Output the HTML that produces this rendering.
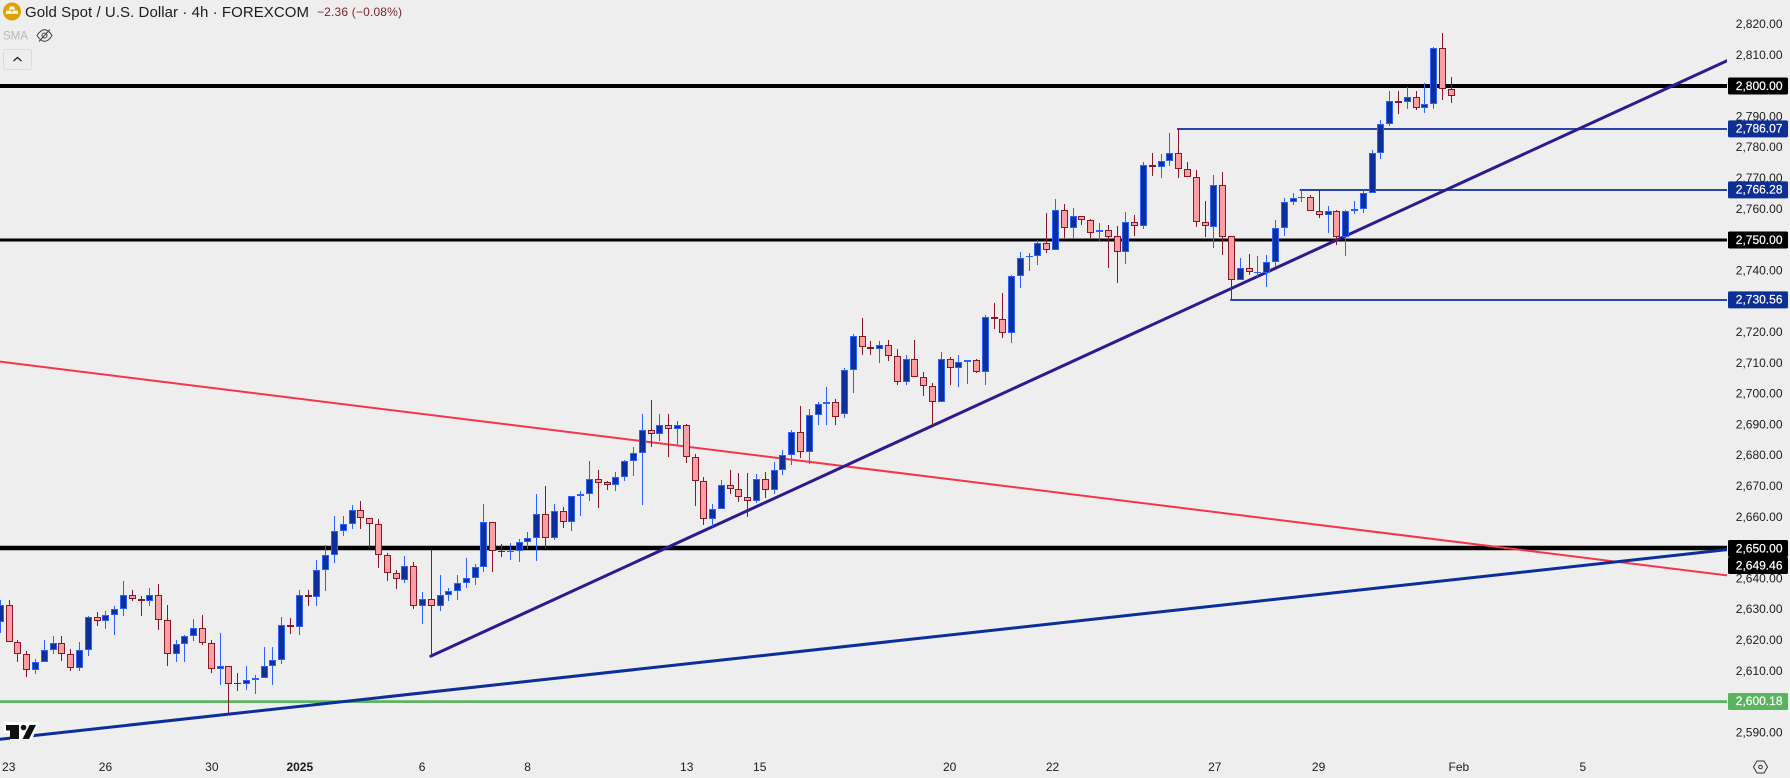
<!DOCTYPE html>
<html lang="en">
<head>
<meta charset="utf-8">
<title>Gold Spot / U.S. Dollar 4h chart</title>
<style>
html,body{margin:0;padding:0;background:#eeeeee;width:1790px;height:778px;overflow:hidden}
svg{display:block}
text{font-family:"Liberation Sans",sans-serif}
</style>
</head>
<body>
<svg id="chart" xmlns="http://www.w3.org/2000/svg" width="1790" height="778" viewBox="0 0 1790 778">
  <rect x="0" y="0" width="1790" height="778" fill="#eeeeee"/>
  <defs><clipPath id="plot-clip"><rect x="0" y="0" width="1727" height="752"/></clipPath></defs>
  <g id="lines" clip-path="url(#plot-clip)"></g>
  <g id="candles" clip-path="url(#plot-clip)"></g>
  <g id="price-axis"></g>
  <g id="price-tags"></g>
  <g id="time-axis"></g>

  <g>
    <path d="M4 722H39L32 740H10V733H4Z" fill="#ffffff"/>
    <path d="M6 725H19V739H10V730.5H6Z" fill="#111111"/>
    <circle cx="23.5" cy="727.5" r="2.8" fill="#111111"/>
    <path d="M29.5 725H36L29 739H22.5Z" fill="#111111"/>
  </g>

  <g>
    <g>
      <circle cx="12" cy="11.5" r="9" fill="#dfa200"/>
      <path d="M10 6.5h4l1 3H9ZM6.5 10.5h4.6l1 3.2H5.5ZM12.9 10.5h4.6l1 3.2h-6.6Z" fill="#ffffff"/>
    </g>
    <text x="25" y="17" font-size="15" fill="#1c1c1c" textLength="284" lengthAdjust="spacing">Gold Spot / U.S. Dollar · 4h · FOREXCOM</text>
    <text x="317" y="16" font-size="12" fill="#7f1f2c" textLength="85" lengthAdjust="spacing">−2.36 (−0.08%)</text>
    <text x="3" y="39.5" font-size="11.5" fill="#b9b9b9">SMA</text>
    <g fill="none" stroke="#4a4a4a" stroke-width="1.1">
      <path d="M37 35.5c3-4.5 5.500-5.800 7.500-5.800s4.800 1.300 7.500 5.800c-2.700 4.500-5.500 5.800-7.500 5.800s-4.500-1.300-7.500-5.800Z"/>
      <circle cx="44.500" cy="35.500" r="2.500"/>
      <path d="M39 41.500L50 29.500"/>
    </g>
    <g>
      <rect x="3.500" y="49.500" width="28" height="20" rx="2" fill="#eeeeee" stroke="#dcdcdc"/>
      <path d="M13.500 61L17.500 57.500L21.500 61" fill="none" stroke="#222222" stroke-width="1.300"/>
    </g>
  </g>

  <g fill="none" stroke="#333333" stroke-width="1">
    <path d="M1753.500 767L1757 761H1764L1767.500 767L1764 773H1757Z"/>
    <circle cx="1760.500" cy="767" r="1.800"/>
  </g>
</svg>

<script>
// ---- Candle data (prices) ----
const opens = [
2625.9,2631.4,2619.4,2615.5,2610.3,2612.9,2616.8,2619.0,2615.5,2610.9,
2616.8,2627.5,2626.2,2628.4,2630.1,2634.6,2633.3,2632.7,2634.6,2626.5,
2615.5,2618.7,2621.3,2623.9,2619.0,2610.6,2611.6,2606.1,2606.0,2607.0,
2607.7,2611.6,2613.5,2624.9,2624.2,2634.6,2634.0,2642.7,2647.6,2655.4,
2657.7,2662.5,2659.6,2657.7,2647.6,2641.8,2639.7,2644.3,2631.2,2633.6,
2631.2,2634.6,2636.2,2638.5,2640.1,2643.7,2658.3,2649.1,2648.8,2648.9,
2652.1,2653.1,2661.2,2653.1,2661.9,2658.6,2666.8,2667.4,2672.3,2671.3,
2670.3,2673.2,2678.1,2681.0,2688.2,2687.1,2689.8,2688.5,2689.8,2679.4,
2671.6,2659.3,2662.8,2670.3,2669.0,2666.7,2665.1,2672.4,2668.8,2675.3,
2680.2,2687.6,2681.2,2693.2,2696.7,2697.3,2693.5,2707.7,2718.7,2715.1,
2714.5,2715.8,2712.5,2703.8,2711.5,2705.4,2702.5,2697.3,2711.5,2708.3,
2710.3,2710.9,2707.3,2724.9,2724.2,2719.7,2738.2,2744.6,2744.7,2748.9,
2746.8,2759.9,2753.8,2757.7,2756.4,2752.5,2753.1,2751.2,2746.0,2755.7,
2754.6,2774.2,2773.8,2775.8,2778.4,2773.2,2770.6,2756.0,2754.3,2768.0,
2751.2,2736.9,2740.8,2739.4,2739.4,2743.0,2753.8,2762.2,2763.5,2764.1,
2759.3,2758.2,2759.3,2751.1,2759.3,2760.2,2765.4,2778.4,2787.8,2795.0,
2794.7,2796.3,2792.7,2794.3,2812.2,2798.9];
const closes = [
2631.4,2619.4,2615.5,2610.3,2612.9,2616.8,2619.0,2615.5,2610.9,2616.8,
2627.5,2626.2,2628.4,2630.1,2634.6,2633.3,2632.7,2634.6,2626.5,2615.5,
2618.7,2621.3,2623.9,2619.0,2610.6,2611.6,2606.0,2605.9,2607.0,2607.7,
2611.6,2613.5,2624.9,2624.2,2634.6,2634.0,2642.7,2647.6,2655.4,2657.7,
2662.5,2659.6,2657.7,2647.6,2641.8,2639.8,2644.3,2631.2,2633.6,2631.2,
2634.6,2636.2,2638.5,2640.1,2643.7,2658.3,2648.9,2648.8,2649.0,2652.1,
2653.1,2661.2,2653.1,2661.9,2658.6,2666.8,2667.4,2672.3,2671.2,2670.3,
2673.2,2678.1,2681.0,2688.2,2687.1,2689.8,2688.5,2689.8,2679.4,2671.6,
2659.3,2662.8,2670.3,2669.0,2666.7,2665.1,2672.3,2668.8,2675.3,2680.2,
2687.6,2681.2,2693.2,2696.7,2697.3,2692.5,2707.7,2718.7,2715.1,2714.5,
2715.8,2712.5,2703.8,2711.5,2705.4,2702.5,2697.3,2711.5,2708.3,2710.3,
2710.9,2707.3,2724.9,2724.2,2719.7,2738.2,2744.3,2744.8,2748.9,2746.8,
2759.9,2753.8,2757.7,2756.4,2752.3,2753.1,2750.9,2746.0,2755.7,2754.6,
2774.2,2773.8,2775.8,2778.4,2773.2,2770.6,2755.9,2754.4,2768.0,2751.1,
2736.9,2740.8,2739.5,2739.6,2743.0,2753.8,2762.2,2763.5,2764.1,2759.3,
2758.2,2759.3,2751.1,2759.3,2760.2,2765.4,2778.4,2787.8,2795.0,2794.6,
2796.3,2792.7,2794.3,2812.2,2798.9,2796.6];
const highs = [
2633.1,2633.1,2620.1,2616.5,2614.0,2620.1,2621.4,2621.4,2617.2,2619.5,
2627.9,2629.2,2629.5,2631.2,2639.3,2636.4,2634.4,2637.0,2638.3,2631.5,
2620.1,2621.7,2626.9,2628.2,2620.1,2622.4,2611.6,2609.4,2611.7,2608.8,
2617.7,2617.7,2627.6,2627.3,2636.4,2636.4,2646.1,2651.0,2660.4,2660.4,
2664.0,2665.3,2659.6,2659.4,2648.4,2642.8,2647.4,2645.3,2635.7,2649.3,
2641.2,2637.0,2641.2,2646.7,2644.8,2664.3,2658.3,2651.3,2651.6,2652.9,
2655.2,2667.5,2670.1,2664.3,2663.3,2666.8,2668.5,2678.2,2675.3,2671.7,
2674.6,2678.5,2682.8,2693.5,2698.0,2693.5,2693.5,2691.2,2690.2,2680.5,
2673.0,2664.3,2672.0,2675.3,2674.3,2674.3,2674.0,2674.7,2677.9,2681.8,
2688.3,2696.1,2695.1,2697.4,2702.3,2698.3,2708.3,2719.5,2724.6,2717.2,
2717.2,2717.5,2714.6,2712.6,2717.5,2707.1,2703.5,2713.6,2712.0,2712.6,
2710.9,2711.3,2725.6,2729.5,2732.8,2738.6,2746.1,2745.8,2750.0,2758.7,
2763.3,2761.7,2760.4,2757.7,2756.7,2755.5,2754.8,2754.5,2759.1,2758.1,
2775.3,2778.2,2777.9,2784.7,2786.0,2775.3,2772.7,2762.6,2771.1,2772.0,
2751.2,2744.1,2745.4,2744.8,2745.1,2756.5,2763.6,2765.2,2766.2,2764.6,
2766.2,2761.0,2759.7,2759.7,2762.6,2766.2,2779.2,2788.9,2798.3,2798.3,
2799.6,2798.3,2800.9,2812.6,2817.2,2802.9];
const lows = [
2622.5,2619.4,2613.0,2608.2,2609.1,2612.9,2615.6,2613.3,2610.0,2610.0,
2615.0,2624.7,2623.7,2621.7,2627.9,2632.8,2627.9,2631.2,2623.4,2611.7,
2613.0,2613.0,2619.8,2618.5,2609.4,2605.5,2596.3,2603.7,2603.9,2602.6,
2607.7,2605.5,2612.3,2622.1,2621.7,2631.2,2631.2,2636.0,2645.1,2653.9,
2656.2,2656.2,2650.0,2643.5,2639.3,2636.7,2638.7,2630.2,2625.3,2614.7,
2629.5,2632.8,2633.1,2637.0,2638.0,2642.2,2642.2,2647.0,2646.1,2645.4,
2649.6,2645.7,2649.6,2652.6,2656.5,2655.5,2660.4,2665.2,2663.0,2668.8,
2668.5,2671.7,2673.3,2663.9,2682.8,2684.7,2679.5,2683.4,2677.6,2663.6,
2657.4,2656.8,2662.8,2667.5,2664.9,2660.0,2664.5,2666.2,2667.5,2673.7,
2676.9,2679.2,2677.3,2689.9,2689.9,2689.9,2692.2,2700.3,2712.6,2712.6,
2710.0,2710.7,2702.9,2702.9,2705.4,2699.3,2689.9,2697.3,2702.9,2702.2,
2703.2,2706.8,2702.9,2721.1,2718.2,2716.5,2734.4,2739.9,2741.9,2745.8,
2746.8,2750.6,2750.6,2754.8,2750.6,2749.6,2740.9,2736.0,2742.2,2751.3,
2753.5,2770.7,2770.1,2774.0,2770.1,2770.6,2754.2,2750.9,2747.4,2745.1,
2730.7,2736.9,2738.6,2738.1,2734.7,2741.2,2751.3,2761.3,2762.3,2759.3,
2757.1,2752.2,2748.3,2744.8,2758.4,2758.7,2765.1,2776.3,2787.0,2790.9,
2792.5,2792.2,2791.2,2792.5,2795.4,2794.5];

// ---- Axis labels ----
const priceTicks = [2820,2810,2790,2780,2770,2760,2740,2730,2720,2710,2700,2690,2680,2670,2660,2640,2630,2620,2610,2590];
const timeLabels = ["23","26","30","2025","6","8","13","15","20","22","27","29","Feb","5"];
const timeLabelBars = [0.9,11.9,24,34,47.9,59.9,78,86.3,107.9,119.6,138.05,149.85,165.8,179.9];

// ---- Drawn levels: [price] and price tag text ----
const blackLevels = [2800,2750,2650];
const blackLevelWidths = [4,3,4.5];
const swingLevels = [2786.07,2766.28,2730.56];
const swingLevelStartBars = [133.75,147.7,139.8];
const greenLevel = [2600.18];
const redTrendPrices = [2710.5,2641.1];
const navyTrendPrices = [2587.9,2649.46];
const purpleTrendPrices = [2614.9,2808.2];
const purpleTrendBars = [48.9,196.3];
const sideTrendBars = [-0.1,196.3];
const tagPrices = [2800,2786.07,2766.28,2750,2730.56,2650,2649.46,2600.18];
const tagColors = ["#000000","#0d2f96","#0d2f96","#000000","#0d2f96","#000000","#000000","#5ab35f"];

// ---- Axis functions ----
function yScale(price){ return 86 + (2800 - price) * 3.08; }
function xCenter(bar){ return 0.8 + 8.794 * bar; }
function fmt(p){ return p.toLocaleString('en-US',{minimumFractionDigits:2,maximumFractionDigits:2}); }

const NS = 'http://www.w3.org/2000/svg';
function make(tag, attrs){
  const el = document.createElementNS(NS, tag);
  for (const k in attrs) el.setAttribute(k, attrs[k]);
  return el;
}

// ---- Lines ----
const linesG = document.getElementById('lines');
blackLevels.forEach(function(p, i){
  const el = make('rect',{x:0,y:yScale(p)-blackLevelWidths[i]/2,width:1727,height:blackLevelWidths[i],fill:'#000000'});
  
  
  linesG.appendChild(el);
});
swingLevels.forEach(function(p, i){
  const x0 = xCenter(swingLevelStartBars[i]);
  const el = make('rect',{x:x0,y:Math.round(yScale(p))-1,width:1727-x0,height:2,fill:'#2a46a3'});
  
  
  linesG.appendChild(el);
});
greenLevel.forEach(function(p){
  const el = make('rect',{x:0,y:yScale(p)-1.2,width:1727,height:2.7,fill:'#5ab35f'});
  
  
  linesG.appendChild(el);
});
const redLine = make('line',{x1:xCenter(sideTrendBars[0]),y1:yScale(redTrendPrices[0]),x2:xCenter(sideTrendBars[1]),y2:yScale(redTrendPrices[1]),stroke:'#f5354c','stroke-width':2});


linesG.appendChild(redLine);
const navyLine = make('line',{x1:xCenter(sideTrendBars[0]),y1:yScale(navyTrendPrices[0]),x2:xCenter(sideTrendBars[1]),y2:yScale(navyTrendPrices[1]),stroke:'#0b2e98','stroke-width':3});


linesG.appendChild(navyLine);
const purpleLine = make('line',{x1:xCenter(purpleTrendBars[0]),y1:yScale(purpleTrendPrices[0]),x2:xCenter(purpleTrendBars[1]),y2:yScale(purpleTrendPrices[1]),stroke:'#2e1a8f','stroke-width':3,'stroke-linecap':'round'});


linesG.appendChild(purpleLine);

// ---- Candles ----
const candlesG = document.getElementById('candles');
opens.forEach(function(o, i){
  const c = closes[i];
  const up = c >= o;
  const col = Math.floor(0.3 + 8.794 * i);
  const wickColor = up ? '#2962ff' : '#8b1726';
  const fillColor = up ? '#0d2f99' : '#fa9fa4';
  const g = make('g',{'shape-rendering':'crispEdges'});
  
  
  const yH = Math.round(yScale(highs[i]));
  const yL = Math.round(yScale(lows[i]));
  const yT = Math.round(yScale(Math.max(o, c)));
  const yB = Math.round(yScale(Math.min(o, c)));
  const h = Math.max(yB - yT, 1);
  const wick = make('rect',{x:col,y:yH,width:1,height:Math.max(yL - yH, 1),fill:wickColor});
  
  
  g.appendChild(wick);
  const body = make('rect',{x:col - 3,y:yT,width:7,height:h,fill:wickColor});
  
  
  g.appendChild(body);
  if (h > 2) {
    const inner = make('rect',{x:col - 2,y:yT + 1,width:5,height:h - 2,fill:fillColor});
    
    
    g.appendChild(inner);
  }
  candlesG.appendChild(g);
});

// ---- Price axis ----
const priceG = document.getElementById('price-axis');
priceTicks.forEach(function(p){
  const t = make('text',{x:1782.5,y:yScale(p)+3.600,'font-size':12,'text-anchor':'end',fill:'#1c1c1c'});
  t.textContent = fmt(p);
  
  
  priceG.appendChild(t);
});

// ---- Price tags ----
const tagsG = document.getElementById('price-tags');
tagPrices.forEach(function(p, i){
  const yc = yScale(p);
  let cy = yc;
  if (p === 2650) cy = yc + 0.5;
  if (p === 2649.46) cy = yScale(2650) + 17.5;
  const r = make('rect',{x:1728,y:cy - 8.5,width:60,height:17,rx:1.5,fill:tagColors[i]});
  
  
  tagsG.appendChild(r);
  const t = make('text',{x:1782.5,y:cy + 3.800,'font-size':12,'text-anchor':'end',fill:'#ffffff',stroke:'#ffffff','stroke-width':0.2});
  t.textContent = fmt(p);
  
  
  tagsG.appendChild(t);
});

// ---- Time axis ----
const timeG = document.getElementById('time-axis');
timeLabels.forEach(function(lbl, i){
  const t = make('text',{x:xCenter(timeLabelBars[i]),y:771,'font-size':12,'text-anchor':'middle',fill:'#1c1c1c'});
  if (lbl === '2025') t.setAttribute('font-weight', 'bold');
  t.textContent = lbl;
  
  
  timeG.appendChild(t);
});
</script>
</body>
</html>
